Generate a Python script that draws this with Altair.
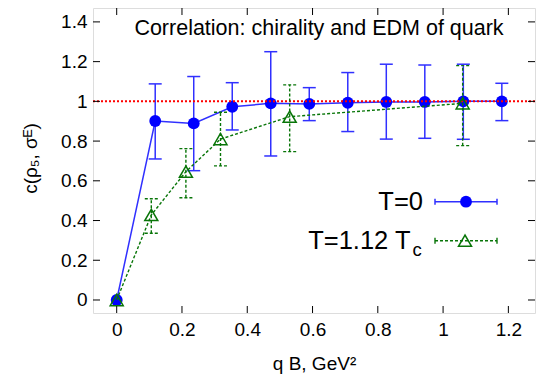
import altair as alt
import pandas as pd

FONT = "Liberation Sans"

# T=0 series
qB_T0 = [0, 0.118, 0.236, 0.354, 0.472, 0.59, 0.708, 0.826, 0.944, 1.062, 1.18]
c_T0 = [0, 0.901, 0.889, 0.973, 0.99, 0.987, 0.993, 0.997, 0.997, 1.0, 1.0]
lo_T0 = [0, 0.71, 0.651, 0.856, 0.725, 0.903, 0.848, 0.81, 0.814, 0.809, 0.903]
hi_T0 = [0, 1.088, 1.125, 1.094, 1.25, 1.069, 1.145, 1.187, 1.183, 1.187, 1.091]

# T=1.12 Tc series
qB_T1 = [0, 0.106, 0.212, 0.318, 0.53, 1.06]
c_T1 = [0, 0.428, 0.646, 0.81, 0.923, 0.99]
lo_T1 = [0, 0.336, 0.515, 0.675, 0.747, 0.777]
hi_T1 = [0, 0.51, 0.762, 0.945, 1.083, 1.18]

x_ticks = [0, 0.2, 0.4, 0.6, 0.8, 1.0, 1.2]
y_ticks = [0, 0.2, 0.4, 0.6, 0.8, 1.0, 1.2, 1.4]
ref_level = [1.0]

title_text = "Correlation: chirality and EDM of quark"
legend_T0 = "T=0"
legend_T1 = "T=1.12 T"
legend_T1_sub = "c"
x_title = "q B, GeV²"
y_title = "c(ρ₅, σᴱ)"

W, H = 442, 305
BLUE = "#0000ff"
BLUE_LINE = "#3030ff"
GREEN = "#087508"
RED = "#ff0000"

xs = alt.Scale(domain=[-0.0726, 1.2816], nice=False, zero=False)
ys = alt.Scale(domain=[-0.0655, 1.470], nice=False, zero=False)

xaxis = alt.Axis(values=x_ticks, format="~g", title=x_title, grid=False, domain=False,
                 ticks=False, labelFont=FONT, labelFontSize=19, labelColor="black",
                 labelPadding=7, titleFont=FONT, titleFontSize=19, titleFontWeight="normal",
                 titleColor="black", titleY=56, titleBaseline="alphabetic")
yaxis = alt.Axis(values=y_ticks, format="~g", title=y_title, grid=False, domain=False,
                 ticks=False, labelFont=FONT, labelFontSize=19, labelColor="black",
                 labelPadding=6, titleFont=FONT, titleFontSize=19, titleFontWeight="normal",
                 titleColor="black", titleAngle=270, titleX=-53, titleY=150,
                 titleAlign="center", titleBaseline="bottom")


def X(f="q"):
    return alt.X(f, type="quantitative", scale=xs, axis=xaxis)


def Y(f="c"):
    return alt.Y(f, type="quantitative", scale=ys, axis=yaxis)


d0 = pd.DataFrame({"q": qB_T0, "c": c_T0, "lo": lo_T0, "hi": hi_T0})
d1 = pd.DataFrame({"q": qB_T1, "c": c_T1, "lo": lo_T1, "hi": hi_T1})
e0 = d0[d0["hi"] > d0["lo"]]
e1 = d1[d1["hi"] > d1["lo"]]

# Blue series
blue_line = alt.Chart(d0).mark_line(color=BLUE_LINE, strokeWidth=1.5).encode(x=X(), y=Y())
blue_err = alt.Chart(e0).mark_rule(color=BLUE_LINE, strokeWidth=1.5).encode(
    x=X(), y=Y("lo"), y2=alt.Y2("hi"))
blue_cap_lo = alt.Chart(e0).mark_rule(color=BLUE_LINE, strokeWidth=1.5, xOffset=-6.5, x2Offset=6.5).encode(
    x=X(), x2=alt.X2("q"), y=Y("lo"))
blue_cap_hi = alt.Chart(e0).mark_rule(color=BLUE_LINE, strokeWidth=1.5, xOffset=-6.5, x2Offset=6.5).encode(
    x=X(), x2=alt.X2("q"), y=Y("hi"))
blue_pts = alt.Chart(d0).mark_point(shape="circle", filled=True, size=140, color=BLUE, opacity=1).encode(
    x=X(), y=Y())

# Red reference line
red = alt.Chart(pd.DataFrame({"c": ref_level})).mark_rule(
    color=RED, strokeWidth=2, strokeDash=[2, 2]).encode(y=Y())

# Green series
dash = [3, 2]
green_line = alt.Chart(d1).mark_line(color=GREEN, strokeWidth=1.4, strokeDash=dash).encode(x=X(), y=Y())
green_err = alt.Chart(e1).mark_rule(color=GREEN, strokeWidth=1.4, strokeDash=dash).encode(
    x=X(), y=Y("lo"), y2=alt.Y2("hi"))
green_cap_lo = alt.Chart(e1).mark_rule(color=GREEN, strokeWidth=1.4, strokeDash=dash, xOffset=-6.5, x2Offset=6.5).encode(
    x=X(), x2=alt.X2("q"), y=Y("lo"))
green_cap_hi = alt.Chart(e1).mark_rule(color=GREEN, strokeWidth=1.4, strokeDash=dash, xOffset=-6.5, x2Offset=6.5).encode(
    x=X(), x2=alt.X2("q"), y=Y("hi"))
green_pts = alt.Chart(d1).mark_point(shape="triangle-up", filled=False, size=170, color=GREEN,
                                     strokeWidth=1.5, opacity=1).encode(x=X(), y=Y())

# Inward ticks on all four sides
TL = 7
xt = pd.DataFrame({"q": x_ticks})
yt = pd.DataFrame({"c": y_ticks})
tick_b = alt.Chart(xt).mark_rule(color="black", strokeWidth=1).encode(x=X(), y=alt.value(H), y2=alt.value(H - TL))
tick_t = alt.Chart(xt).mark_rule(color="black", strokeWidth=1).encode(x=X(), y=alt.value(0), y2=alt.value(TL))
tick_l = alt.Chart(yt).mark_rule(color="black", strokeWidth=1).encode(y=Y(), x=alt.value(0), x2=alt.value(TL))
tick_r = alt.Chart(yt).mark_rule(color="black", strokeWidth=1).encode(y=Y(), x=alt.value(W), x2=alt.value(W - TL))

# Title inside plot
title = alt.Chart(pd.DataFrame({"t": [title_text]})).mark_text(
    font=FONT, fontSize=21.5, align="center", baseline="alphabetic", color="black").encode(
    text="t:N", x=alt.value(226), y=alt.value(26.5))

# Legend
lg = []
lg.append(alt.Chart(pd.DataFrame({"t": [legend_T0]})).mark_text(
    font=FONT, fontSize=25.5, align="right", baseline="alphabetic", color="black").encode(
    text="t:N", x=alt.value(330), y=alt.value(201.5)))
lg.append(alt.Chart(pd.DataFrame({"t": [legend_T1]})).mark_text(
    font=FONT, fontSize=25.5, align="right", baseline="alphabetic", color="black").encode(
    text="t:N", x=alt.value(317.5), y=alt.value(241)))
lg.append(alt.Chart(pd.DataFrame({"t": [legend_T1_sub]})).mark_text(
    font=FONT, fontSize=18.5, align="left", baseline="alphabetic", color="black").encode(
    text="t:N", x=alt.value(319.5), y=alt.value(247.5)))
LY0, LY1 = 193.7, 232.7
one = pd.DataFrame({"a": [0]})
lg.append(alt.Chart(one).mark_rule(color=BLUE_LINE, strokeWidth=1.5).encode(
    x=alt.value(342), x2=alt.value(404), y=alt.value(LY0)))
lg.append(alt.Chart(one).mark_rule(color=BLUE_LINE, strokeWidth=1.5).encode(
    x=alt.value(342), y=alt.value(LY0 - 3), y2=alt.value(LY0 + 3)))
lg.append(alt.Chart(one).mark_rule(color=BLUE_LINE, strokeWidth=1.5).encode(
    x=alt.value(404), y=alt.value(LY0 - 3), y2=alt.value(LY0 + 3)))
lg.append(alt.Chart(one).mark_point(shape="circle", filled=True, size=140, color=BLUE, opacity=1).encode(
    x=alt.value(373), y=alt.value(LY0)))
lg.append(alt.Chart(one).mark_rule(color=GREEN, strokeWidth=1.4, strokeDash=dash).encode(
    x=alt.value(342), x2=alt.value(404), y=alt.value(LY1)))
lg.append(alt.Chart(one).mark_rule(color=GREEN, strokeWidth=1.4).encode(
    x=alt.value(342), y=alt.value(LY1 - 3), y2=alt.value(LY1 + 3)))
lg.append(alt.Chart(one).mark_rule(color=GREEN, strokeWidth=1.4).encode(
    x=alt.value(404), y=alt.value(LY1 - 3), y2=alt.value(LY1 + 3)))
lg.append(alt.Chart(one).mark_point(shape="triangle-up", filled=False, size=170, color=GREEN,
                                    strokeWidth=1.5, opacity=1).encode(x=alt.value(372), y=alt.value(LY1)))

chart = alt.layer(
    blue_line, blue_err, blue_cap_lo, blue_cap_hi, blue_pts,
    red,
    green_line, green_err, green_cap_lo, green_cap_hi, green_pts,
    tick_b, tick_t, tick_l, tick_r, title, *lg
).properties(
    width=W, height=H,
    autosize=alt.AutoSizeParams(type="none"),
    padding={"left": 85, "top": 0, "right": 8, "bottom": 62},
).configure_view(
    stroke="black", strokeWidth=1.2
).configure(background="white")

chart.save("out.html", embed_options={"renderer": "svg", "actions": False})
